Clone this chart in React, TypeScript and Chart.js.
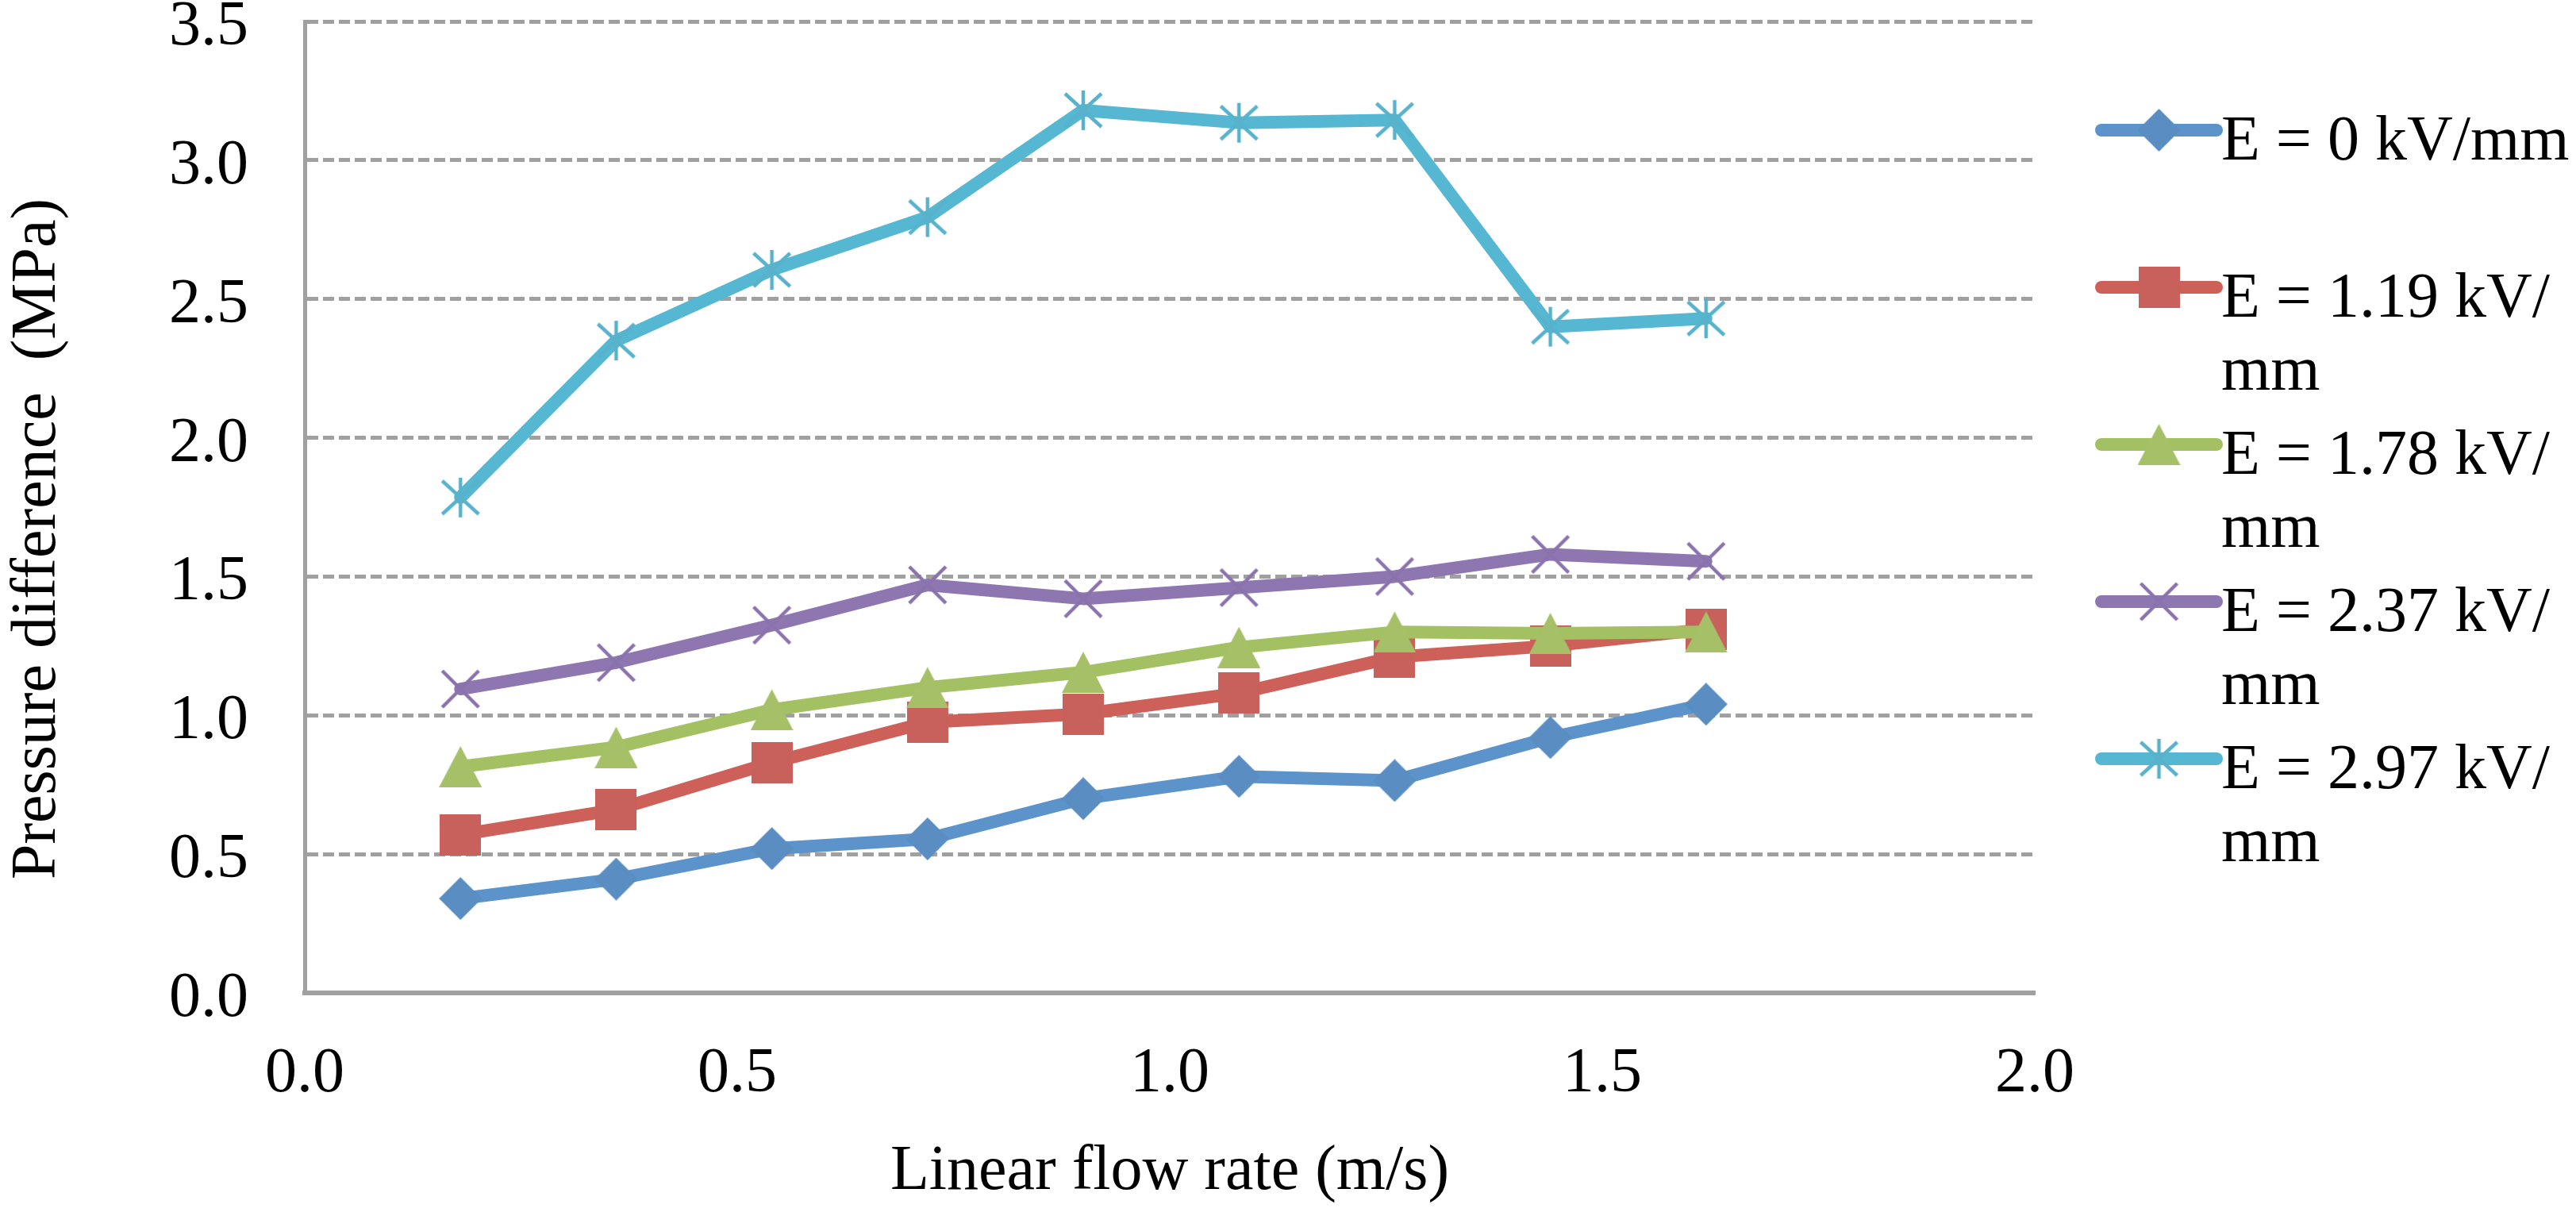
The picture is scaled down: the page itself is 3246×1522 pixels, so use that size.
import React, { useEffect, useRef } from 'react';
import { Chart, registerables } from 'chart.js';

Chart.register(...registerables);

// ---------- data ----------
const flowRates = [0.18, 0.36, 0.54, 0.72, 0.9, 1.08, 1.26, 1.44, 1.62];
const seriesLabels = ['E = 0 kV/mm', 'E = 1.19 kV/mm', 'E = 1.78 kV/mm', 'E = 2.37 kV/mm', 'E = 2.97 kV/mm'];
const e000 = [0.34, 0.41, 0.52, 0.555, 0.7, 0.78, 0.765, 0.92, 1.04];
const e119 = [0.57, 0.66, 0.83, 0.975, 1.005, 1.08, 1.21, 1.25, 1.31];
const e178 = [0.815, 0.885, 1.02, 1.1, 1.155, 1.245, 1.3, 1.295, 1.3];
const e237 = [1.095, 1.19, 1.325, 1.47, 1.42, 1.46, 1.5, 1.58, 1.555];
const e297 = [1.785, 2.35, 2.605, 2.795, 3.18, 3.135, 3.145, 2.4, 2.43];
const xTickLabels = ['0.0', '0.5', '1.0', '1.5', '2.0'];
const yTickLabels = ['0.0', '0.5', '1.0', '1.5', '2.0', '2.5', '3.0', '3.5'];
const xTitle = 'Linear flow rate (m/s)';
const yTitle = 'Pressure difference  (MPa)';

const FONT = '"Liberation Serif", "Times New Roman", serif';

// ---------- markers ----------
function makeMarker(kind: string, color: string): HTMLCanvasElement {
  const c = document.createElement('canvas');
  let w = 52, h = 52;
  if (kind === 'diamond') { w = 54; h = 54; }
  if (kind === 'triangle') { w = 54; h = 52; }
  c.width = w; c.height = h;
  const g = c.getContext('2d')!;
  g.fillStyle = color;
  g.strokeStyle = color;
  g.lineJoin = 'round';
  if (kind === 'diamond') {
    g.beginPath();
    g.moveTo(w / 2, 0); g.lineTo(w, h / 2); g.lineTo(w / 2, h); g.lineTo(0, h / 2);
    g.closePath(); g.fill();
  } else if (kind === 'square') {
    g.fillRect(0, 0, w, h);
  } else if (kind === 'triangle') {
    g.beginPath();
    g.moveTo(w / 2, 0); g.lineTo(w, h); g.lineTo(0, h);
    g.closePath(); g.fill();
  } else if (kind === 'x') {
    g.lineWidth = 4.5;
    g.beginPath();
    g.moveTo(3, 3); g.lineTo(w - 3, h - 3);
    g.moveTo(w - 3, 3); g.lineTo(3, h - 3);
    g.stroke();
  } else if (kind === 'asterisk') {
    g.lineWidth = 4.5;
    g.beginPath();
    g.moveTo(w / 2, 1); g.lineTo(w / 2, h - 1);
    g.moveTo(3, 5); g.lineTo(w - 3, h - 5);
    g.moveTo(w - 3, 5); g.lineTo(3, h - 5);
    g.stroke();
  }
  return c;
}

function wrapText(ctx: CanvasRenderingContext2D, text: string, maxWidth: number): string[] {
  const parts = (text.match(/[^\s/]*[\s/]?/g) || []).filter((p) => p.length > 0);
  const lines: string[] = [];
  let cur = '';
  for (const p of parts) {
    const test = (cur + p).replace(/\s+$/, '');
    if (cur && ctx.measureText(test).width > maxWidth) {
      lines.push(cur.replace(/\s+$/, ''));
      cur = p;
    } else {
      cur += p;
    }
  }
  if (cur) lines.push(cur.replace(/\s+$/, ''));
  return lines;
}

const sideLegend = {
  id: 'sideLegend',
  afterDraw(chart: any) {
    const ctx: CanvasRenderingContext2D = chart.ctx;
    const area = chart.chartArea;
    const lineX1 = area.right + 84;
    const lineX2 = area.right + 229;
    const textX = area.right + 235;
    chart.data.datasets.forEach((ds: any, i: number) => {
      const y = area.top + 137 + i * 198;
      ctx.save();
      ctx.strokeStyle = ds.borderColor;
      ctx.lineWidth = ds.borderWidth;
      ctx.lineCap = 'round';
      ctx.beginPath();
      ctx.moveTo(lineX1, y);
      ctx.lineTo(lineX2, y);
      ctx.stroke();
      const img = ds.pointStyle as HTMLCanvasElement;
      ctx.drawImage(img, (lineX1 + lineX2) / 2 - img.width / 2, y - img.height / 2);
      ctx.font = `80px ${FONT}`;
      ctx.fillStyle = '#000';
      ctx.textAlign = 'left';
      ctx.textBaseline = 'alphabetic';
      const lines = wrapText(ctx, ds.label, 460);
      lines.forEach((ln, k) => ctx.fillText(ln, textX, y + 37 + k * 92));
      ctx.restore();
    });
  },
};

export default function App() {
  const ref = useRef<HTMLCanvasElement | null>(null);

  useEffect(() => {
    if (!ref.current) return;
    const seriesValues = [e000, e119, e178, e237, e297];
    const lineColors = ['#5B93CA', '#CE605A', '#A3C163', '#8E77B0', '#55B7D1'];
    const markerColors = ['#5A8DC1', '#C8615C', '#A6C068', '#8A73AD', '#58B2CB'];
    const markerKinds = ['diamond', 'square', 'triangle', 'x', 'asterisk'];

    const datasets = seriesValues.map((vals, i) => ({
      label: seriesLabels[i],
      data: flowRates.map((x, k) => ({ x, y: vals[k] })),
      borderColor: lineColors[i],
      backgroundColor: lineColors[i],
      borderWidth: 16,
      borderJoinStyle: 'round' as const,
      borderCapStyle: 'round' as const,
      tension: 0,
      pointStyle: makeMarker(markerKinds[i], markerColors[i]),
      pointRadius: 26,
      pointBorderWidth: 0,
      pointHoverRadius: 26,
      order: 10 - i,
    }));

    const chart = new Chart(ref.current, {
      type: 'line',
      data: { datasets },
      plugins: [sideLegend],
      options: {
        animation: false,
        responsive: false,
        events: [],
        layout: { autoPadding: false, padding: { left: 0, top: 27, right: 682, bottom: 0 } },
        plugins: {
          legend: { display: false },
          tooltip: { enabled: false },
        },
        scales: {
          x: {
            type: 'linear',
            min: 0,
            max: 2,
            afterFit: (s: any) => { s.height = 271; s.paddingLeft = 0; s.paddingRight = 0; },
            ticks: {
              stepSize: 0.5,
              padding: 55,
              color: '#000',
              maxRotation: 0,
              autoSkip: false,
              font: { family: FONT, size: 80 },
              callback: (_v: any, i: number) => xTickLabels[i],
            },
            grid: { display: false, drawTicks: false },
            border: { display: true, color: '#A0A0A0', width: 6 },
            title: {
              display: true,
              text: xTitle,
              color: '#000',
              font: { family: FONT, size: 80 },
              padding: { top: 0, bottom: -3 },
            },
          },
          y: {
            type: 'linear',
            min: 0,
            max: 3.5,
            afterFit: (s: any) => { s.width = 384; s.paddingTop = 0; s.paddingBottom = 0; },
            ticks: {
              stepSize: 0.5,
              padding: 71,
              labelOffset: 8,
              color: '#000',
              font: { family: FONT, size: 80, lineHeight: 0.5 },
              callback: (_v: any, i: number) => yTickLabels[i],
            },
            grid: { color: '#A0A0A0', lineWidth: 5, drawTicks: false },
            border: { display: true, color: '#A0A0A0', width: 5, dash: [14, 6] },
            title: {
              display: true,
              text: yTitle + '\u00a0\u00a0\u00a0\u00a0',
              color: '#000',
              font: { family: FONT, size: 80 },
              padding: { top: 0, bottom: 0 },
            },
          },
        },
      },
    });
    return () => chart.destroy();
  }, []);

  return (
    <div style={{ position: 'fixed', left: 0, top: 0, width: 3246, height: 1522, background: '#fff' }}>
      <canvas ref={ref} width={3246} height={1522} style={{ width: 3246, height: 1522, display: 'block' }} />
    </div>
  );
}
